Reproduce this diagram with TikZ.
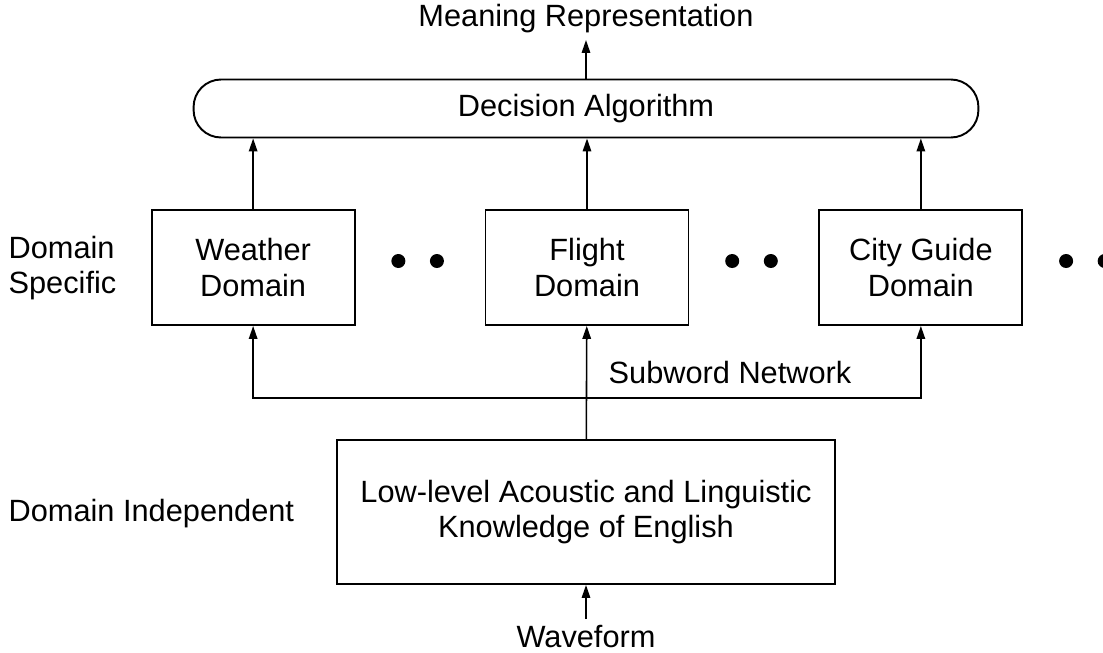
\documentclass[tikz,border=0pt]{standalone}
\usepackage{fontspec}
\setmainfont{Liberation Sans}
\usetikzlibrary{arrows.meta,positioning}
\tikzstyle{dominio}=[
	rectangle,
	draw=black,
	line width=1.1pt,
	minimum width=4.06cm,
	minimum height=2.3cm,
	align=center]
\tikzstyle{decision}=[
	rectangle,
	rounded corners=0.55cm,
	draw=black,
	line width=1.1pt,
	minimum width=15.7cm,
	minimum height=1.16cm]
\tikzstyle{base}=[
	dominio,
	minimum width=9.96cm,
	minimum height=2.88cm]
\tikzstyle{etiqueta}=[
	anchor=west,
	align=left]
\tikzstyle{punto}=[
	circle,
	fill=black,
	inner sep=0pt,
	minimum size=0.28cm]

\begin{document}
\begin{tikzpicture}[x=0.02cm,y=-0.02cm,line width=0.9pt,>={Triangle[length=0.26cm,width=0.17cm]},font=\fontsize{17.5}{20}\selectfont]
	\useasboundingbox (0,0) rectangle (1103,653);
	\node[dominio]	(flight) at (587,267.5) {Flight\\Domain};
	\node[dominio]	(weather) [left=2.58cm of flight] {Weather\\Domain};
	\node[dominio]	(city) [right=2.58cm of flight] {City Guide\\Domain};
	\node[decision]	(decision) at (586,108.5) {Decision Algorithm};
	\node			(meaning) at (586,19) {Meaning Representation};
	\node[base]		(lowlevel) at (586,512) {Low-level Acoustic and Linguistic\\Knowledge of English};
	\node			(waveform) at (586,637) {Waveform};
	\node			(subword) at (730,373) {Subword Network};
	\node[etiqueta]	(especifico) at (2,268) {Domain\\Specific};
	\node[etiqueta]	(independiente) at (2,514) {Domain Independent};
	\foreach \caja in {weather,flight,city}{
		\node[punto,right=0.7cm of \caja,yshift=0.13cm] (\caja-p1) {};
		\node[punto,right=0.46cm of \caja-p1] (\caja-p2) {};
		\draw[->] (\caja.north) -- (\caja.north |- decision.south);
	}
	\path (flight.south) ++(0,72) coordinate (cruce);
	\draw[->]	(decision) -- (meaning);
	\draw[->]	(waveform) -- (lowlevel);
	\draw[->]	(lowlevel) -- (flight);
	\draw[->]	(cruce) -| (weather.south);
	\draw[->]	(cruce) -| (city.south);
\end{tikzpicture}
\end{document}
